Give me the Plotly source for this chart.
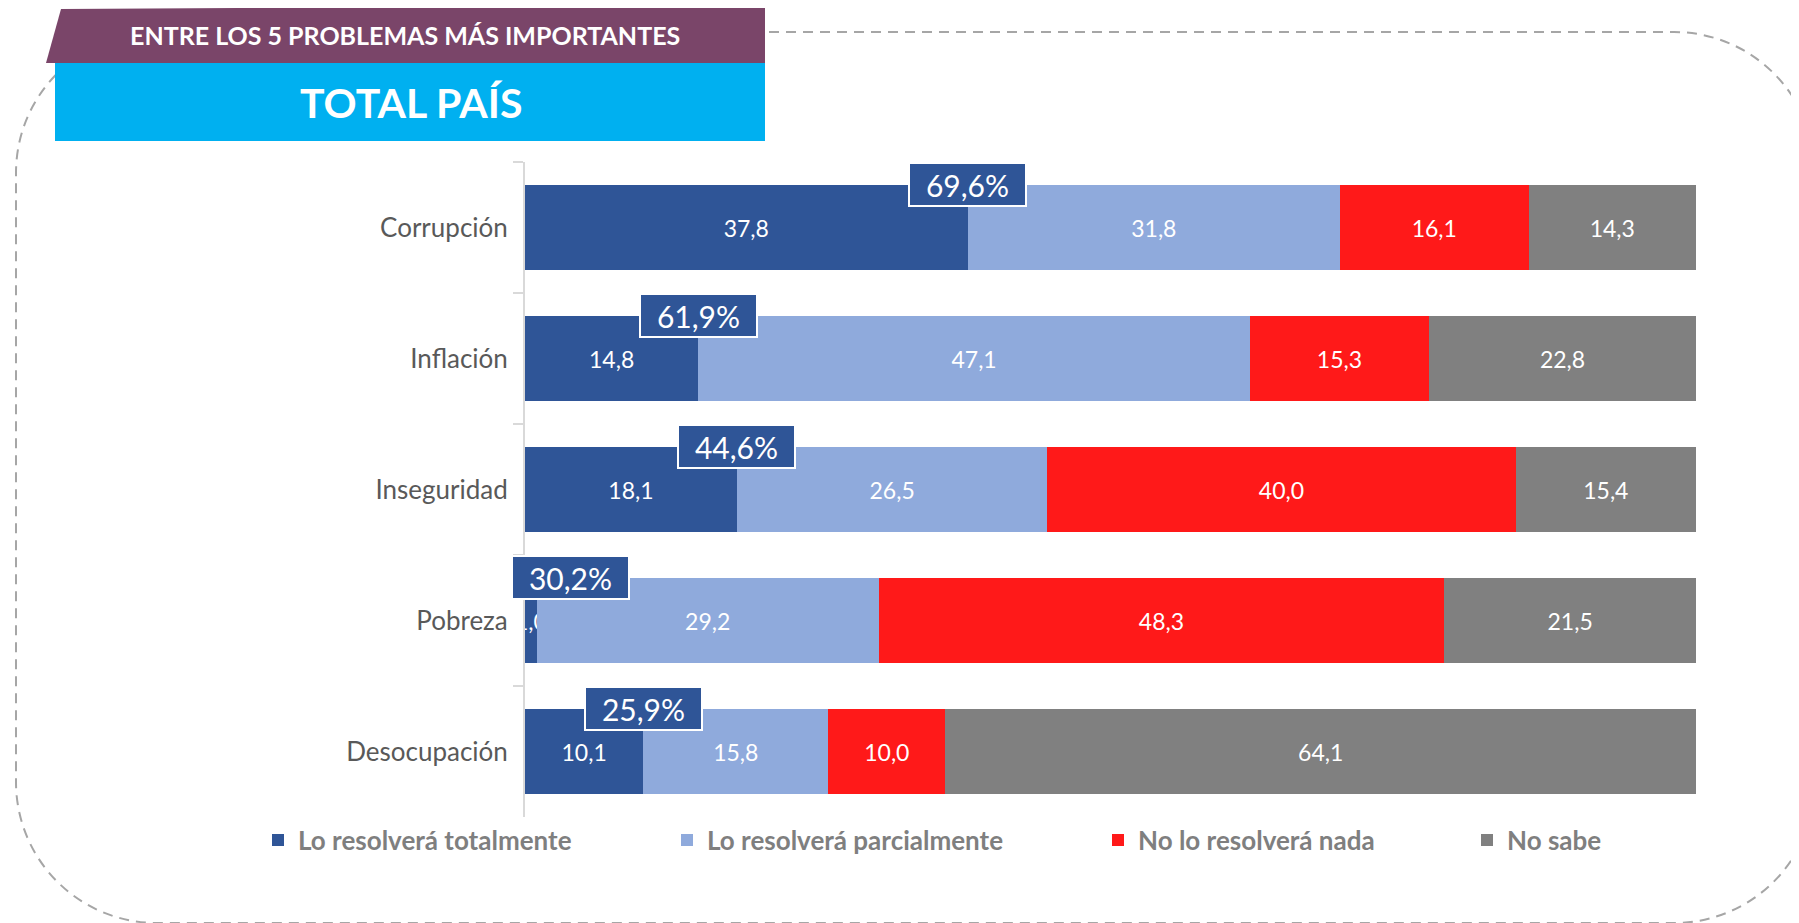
import plotly.graph_objects as go

# data
categorias = ["Corrupción", "Inflación", "Inseguridad", "Pobreza", "Desocupación"]
totalmente = [37.8, 14.8, 18.1, 1.0, 10.1]
parcialmente = [31.8, 47.1, 26.5, 29.2, 15.8]
nada = [16.1, 15.3, 40.0, 48.3, 10.0]
no_sabe = [14.3, 22.8, 15.4, 21.5, 64.1]

series = [
    ("Lo resolverá totalmente", totalmente, "#2F5597"),
    ("Lo resolverá parcialmente", parcialmente, "#8FAADC"),
    ("No lo resolverá nada", nada, "#FF1919"),
    ("No sabe", no_sabe, "#808080"),
]

# the page body adds an 8px margin, so the figure is 8px smaller
OFF = 8
W, H = 1799 - OFF, 923 - OFF
L, R, T, B = 525 - OFF, 103, 162 - OFF, 106
pw, ph = W - L - R, H - T - B


# screen pixel -> paper helpers
def px(x):
    return (x - OFF - L) / pw


def py(y):
    return (H - B - (y - OFF)) / ph


FONT = "Lato, Carlito, Calibri, sans-serif"

fig = go.Figure()

legend_ids = ["legend", "legend2", "legend3", "legend4"]
for (name, vals, col), lid in zip(series, legend_ids):
    fig.add_trace(go.Bar(
        y=categorias, x=vals, name=name, orientation="h",
        marker=dict(color=col, line=dict(width=0)),
        texttemplate="%{x:.1f}", textposition="inside",
        insidetextanchor="middle", textangle=0,
        textfont=dict(family=FONT, size=23, color="white"),
        legend=lid, showlegend=True, hoverinfo="skip",
    ))

# totals boxes (totalmente + parcialmente)
step = ph / len(categorias)
bar_h = step * 0.656
unit = pw / 100
for cat, a, b in zip(categorias, totalmente, parcialmente):
    tot = round(a + b, 1)
    fig.add_annotation(
        x=a, y=cat, xref="x", yref="y",
        text=f"{tot:.1f}%".replace(".", ","),
        showarrow=False, xanchor="center", yanchor="middle",
        yshift=bar_h / 2, xshift=max(0, 45 - a * unit),
        font=dict(family=FONT, size=30, color="white"),
        bgcolor="#2F5597", bordercolor="white", borderwidth=2,
        width=113, height=39,
    )

# dashed rounded frame
fl, ft, fr, fb, rad = 16, 32, 1815, 923, 141
k = 0.5523 * rad
path = (
    f"M{px(fl + rad)},{py(ft)} L{px(fr - rad)},{py(ft)} "
    f"C{px(fr - rad + k)},{py(ft)} {px(fr)},{py(ft + rad - k)} {px(fr)},{py(ft + rad)} "
    f"L{px(fr)},{py(fb - rad)} "
    f"C{px(fr)},{py(fb - rad + k)} {px(fr - rad + k)},{py(fb)} {px(fr - rad)},{py(fb)} "
    f"L{px(fl + rad)},{py(fb)} "
    f"C{px(fl + rad - k)},{py(fb)} {px(fl)},{py(fb - rad + k)} {px(fl)},{py(fb - rad)} "
    f"L{px(fl)},{py(ft + rad)} "
    f"C{px(fl)},{py(ft + rad - k)} {px(fl + rad - k)},{py(ft)} {px(fl + rad)},{py(ft)} Z"
)
fig.add_shape(type="path", path=path, xref="paper", yref="paper",
              line=dict(color="#A6A6A6", width=2, dash="10px,7px"))

# title banners
purple = f"M{px(61)},{py(9)} L{px(765)},{py(5)} L{px(765)},{py(63)} L{px(46)},{py(63)} Z"
fig.add_shape(type="path", path=purple, xref="paper", yref="paper",
              fillcolor="#7A4569", line=dict(width=0))
fig.add_shape(type="rect", xref="paper", yref="paper",
              x0=px(55), x1=px(765), y0=py(63), y1=py(141),
              fillcolor="#00B0F0", line=dict(width=0))
fig.add_annotation(x=px(405), y=py(35), xref="paper", yref="paper",
                   text="<b>ENTRE LOS 5 PROBLEMAS MÁS IMPORTANTES</b>",
                   showarrow=False, xanchor="center", yanchor="middle",
                   font=dict(family=FONT, size=25, color="white"))
fig.add_annotation(x=px(411), y=py(102), xref="paper", yref="paper",
                   text="<b>TOTAL PAÍS</b>",
                   showarrow=False, xanchor="center", yanchor="middle",
                   font=dict(family=FONT, size=41, color="white"))

# one legend per series, placed like the original (container coords)
leg_font = dict(family=FONT, size=26, color="#7F7F7F", weight="bold")
legend_px = [258, 667, 1098, 1467]
layout_legends = {}
for lid, lx in zip(legend_ids, legend_px):
    layout_legends[lid] = dict(
        xref="container", yref="container",
        x=(lx - OFF) / W, y=1 - (840 - OFF) / H,
        xanchor="left", yanchor="middle",
        orientation="h", font=leg_font, bgcolor="rgba(0,0,0,0)",
    )

fig.update_layout(
    width=W, height=H,
    margin=dict(l=L, r=R, t=T, b=B, autoexpand=False),
    barmode="stack", bargap=0.344,
    separators=",.",
    showlegend=True,
    plot_bgcolor="white", paper_bgcolor="white",
    uniformtext=dict(minsize=23, mode="show"),
    font=dict(family=FONT),
    **layout_legends,
)
fig.update_xaxes(range=[0, 100], visible=False, fixedrange=True)
fig.update_yaxes(
    type="category", autorange="reversed",
    showline=True, linecolor="#D9D9D9", linewidth=2,
    ticks="outside", tickson="boundaries", ticklen=10,
    tickcolor="#D9D9D9", tickwidth=2, showgrid=False,
    ticklabelstandoff=10,
    tickfont=dict(family=FONT, size=26, color="#595959"),
)

fig.write_html("out.html")
